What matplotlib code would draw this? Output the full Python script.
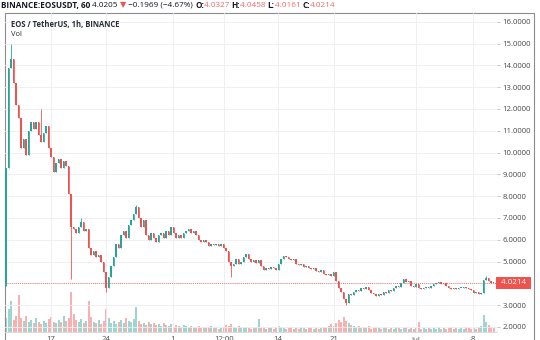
import numpy as np
import matplotlib
matplotlib.use("Agg")
import matplotlib.pyplot as plt
from matplotlib.patches import Rectangle

# ---- hourly EOS/USDT closes (one value per candle) ----
first_open = 3.9
closes = [
    9.3, 13.9, 14.3, 13.2, 12.2, 11.6, 10.2, 10.6, 9.9, 11.0,
    11.4, 11.1, 11.4, 10.8, 10.5, 10.9, 11.2, 10.2, 9.8, 9.1,
    9.5, 9.7, 9.3, 9.6, 9.4, 8.1, 6.6, 6.5, 6.3, 6.6,
    6.8, 6.4, 6.5, 5.6, 5.3, 5.5, 5.2, 5.3, 5.0, 4.5,
    3.8, 4.3, 4.8, 5.2, 5.8, 5.6, 6.2, 6.4, 6.1, 6.7,
    6.9, 7.2, 7.5, 7.0, 6.6, 6.9, 6.2, 6.0, 6.3, 6.1,
    5.9, 6.2, 6.3, 6.1, 6.4, 6.2, 6.6, 6.3, 6.1, 6.2,
    6.1, 6.3, 6.4, 6.5, 6.3, 6.4, 6.2, 6.0, 5.9, 6.0,
    5.9, 5.7, 5.8, 5.75, 5.8, 5.7, 5.8, 5.6, 5.5, 5.0,
    4.8, 4.9, 5.1, 4.9, 5.0, 5.2, 5.35, 5.1, 5.0, 5.05,
    4.95, 5.05, 4.8, 4.6, 4.7, 4.65, 4.75, 4.7, 4.6, 4.9,
    5.1, 5.25, 5.2, 5.1, 5.05, 5.1, 4.9, 4.85, 4.9, 4.75,
    4.8, 4.7, 4.65, 4.7, 4.55, 4.5, 4.6, 4.45, 4.4, 4.45,
    4.35, 4.5, 4.1, 3.8, 3.6, 3.3, 3.1, 3.5, 3.45, 3.6,
    3.7, 3.65, 3.8, 3.75, 3.85, 3.7, 3.55, 3.5, 3.4, 3.5,
    3.45, 3.6, 3.55, 3.7, 3.65, 3.8, 3.9, 3.85, 4.0, 4.2,
    4.05, 4.1, 3.9, 3.85, 3.95, 3.8, 3.75, 3.8, 3.85, 3.8,
    3.9, 3.95, 4.0, 4.05, 3.95, 4.0, 3.9, 3.8, 3.75, 3.8,
    3.75, 3.8, 3.8, 3.85, 3.8, 3.75, 3.7, 3.55, 3.6, 3.5,
    3.55, 4.15, 4.25, 4.1, 4.0327, 4.0214,
]
# wick extremes that stick out beyond the candle bodies
spike_highs = {2: 15.0, 14: 12.0, 30: 7.0, 52: 7.6, 192: 4.35}
spike_lows = {26: 4.2, 40: 3.6, 90: 4.3, 136: 3.0}

volumes = [
    14, 22, 30, 12, 16, 36, 14, 11, 16, 10,
    12, 9, 14, 10, 8, 11, 9, 13, 15, 10,
    9, 12, 10, 16, 11, 14, 39, 18, 12, 10,
    13, 9, 11, 30, 15, 10, 9, 12, 8, 11,
    22, 14, 9, 11, 8, 10, 12, 9, 14, 11,
    10, 13, 24, 11, 8, 9, 7, 10, 8, 9,
    7, 8, 6, 9, 7, 6, 8, 5, 7, 6,
    5, 7, 6, 5, 6, 4, 5, 6, 4, 5,
    4, 5, 6, 4, 5, 3, 4, 5, 7, 6,
    8, 5, 4, 6, 5, 4, 5, 4, 3, 4,
    5, 13, 4, 5, 3, 4, 5, 3, 4, 6,
    5, 4, 3, 4, 5, 3, 4, 3, 5, 4,
    3, 4, 5, 3, 4, 3, 4, 5, 4, 6,
    8, 6, 9, 12, 10, 15, 11, 9, 7, 6,
    5, 6, 4, 5, 4, 6, 3, 4, 5, 4,
    3, 4, 5, 3, 4, 3, 5, 4, 3, 4,
    5, 3, 4, 3, 4, 10, 3, 4, 3, 4,
    3, 4, 3, 5, 3, 4, 3, 4, 5, 3,
    4, 3, 4, 3, 5, 4, 3, 4, 3, 5,
    6, 17, 10, 7, 5, 4,
]

price_ticks = [2, 3, 4, 5, 6, 7, 8, 9, 10, 11, 12, 13, 14, 15, 16]
time_tick_pos = [18, 40, 66.8, 87.2, 108.8, 131.2, 164, 186.8]
time_tick_labels = ["17", "24", "1", "12:00", "14", "21", "Jul", "8"]
last_price = 4.0214

UP = "#26a69a"
DOWN = "#ef5350"
FONT = ["Open Sans", "DejaVu Sans"]

opens = np.array([first_open] + closes[:-1])
closes = np.array(closes)
highs = np.maximum(opens, closes)
lows = np.minimum(opens, closes)
for i, h in spike_highs.items():
    highs[i] = max(highs[i], h)
for i, l in spike_lows.items():
    lows[i] = min(lows[i], l)
idx = np.arange(len(closes))
colors = np.where(closes >= opens, UP, DOWN)

W, H = 540, 340
fig = plt.figure(figsize=(W / 100, H / 100), dpi=100)
fig.patch.set_facecolor("white")

ax = fig.add_axes([5 / W, 8 / H, 492 / W, 319 / H])
vax = ax.twinx()
ax.set_zorder(vax.get_zorder() + 1)
ax.patch.set_visible(False)

# volume histogram along the bottom of the pane
vax.bar(idx, volumes, width=0.8, color=colors, alpha=0.45, linewidth=0)
vax.set_ylim(0, max(volumes) * 319 / 40)
vax.set_yticks([])
for s in vax.spines.values():
    s.set_visible(False)

# candles
ax.vlines(idx, lows, highs, colors=colors, linewidth=0.6)
body_h = np.maximum(np.abs(closes - opens), 0.03)
ax.bar(idx, body_h, bottom=np.minimum(opens, closes), width=0.55,
       color=colors, linewidth=0)

ax.axhline(last_price, color=DOWN, linestyle=(0, (1, 1.5)), linewidth=0.6)

ax.set_xlim(-0.4, 196.4)
ax.set_ylim(1.77, 16.40)

ax.yaxis.tick_right()
ax.set_yticks(price_ticks)
ax.set_yticklabels(["" if v == 4 else f"{v:.4f}" for v in price_ticks],
                   family=FONT)
ax.tick_params(axis="y", length=2.5, width=0.5, color="#b0b0b0", pad=1.5,
               labelsize=5.6, labelcolor="#4a4a4a")
ax.set_xticks(time_tick_pos)
ax.set_xticklabels(time_tick_labels, family=FONT)
ax.tick_params(axis="x", length=0, pad=3.2, labelsize=5.6, labelcolor="#4a4a4a")
ax.grid(True, color="#eceef2", linewidth=0.6)
ax.set_axisbelow(True)

for side in ["top", "right", "left"]:
    ax.spines[side].set_visible(False)
ax.spines["bottom"].set_color("#d6d6d6")
ax.spines["bottom"].set_linewidth(0.6)

# last price tag on the scale
ax.text(1.004, last_price, " 4.0214 ", transform=ax.get_yaxis_transform(),
        ha="left", va="center", fontsize=5.8, color="white", family=FONT,
        bbox=dict(boxstyle="square,pad=0.35", fc=DOWN, ec="none"),
        clip_on=False, zorder=5)

# chart frame
fig.add_artist(Rectangle((5 / W, -0.1), 529 / W, (H - 13) / H + 0.1,
                         transform=fig.transFigure, fill=False,
                         ec="#8c8c8c", lw=0.8))

ax.text(0.012, 0.963, "EOS / TetherUS, 1h, BINANCE", transform=ax.transAxes,
        fontsize=5.5, fontweight="bold", color="#2a2e39", family=FONT, va="center")
ax.text(0.012, 0.933, "Vol", transform=ax.transAxes,
        fontsize=5.5, color="#2a2e39", family=FONT, va="center")

# symbol header, drawn piece by piece
renderer = fig.canvas.get_renderer()
header = [
    ("BINANCE:EOSUSDT, 60 ", "#131722", "bold"),
    ("4.0205 ", "#131722", "normal"),
    ("\u25bc", DOWN, "normal"),
    (" \u22120.1969 (\u22124.67%) ", "#131722", "normal"),
    ("O:", "#131722", "bold"), ("4.0327 ", "#f06a6a", "normal"),
    ("H:", "#131722", "bold"), ("4.0458 ", "#f06a6a", "normal"),
    ("L:", "#131722", "bold"), ("4.0161 ", "#f06a6a", "normal"),
    ("C:", "#131722", "bold"), ("4.0214", "#f06a6a", "normal"),
]
x = 1.0
for s, c, w in header:
    t = fig.text(x / W, 1 - 5.5 / H, s, color=c, fontweight=w, fontsize=5.9,
                 family=FONT, va="center", ha="left")
    x = t.get_window_extent(renderer).x1

fig.savefig("out.png", dpi=100)
